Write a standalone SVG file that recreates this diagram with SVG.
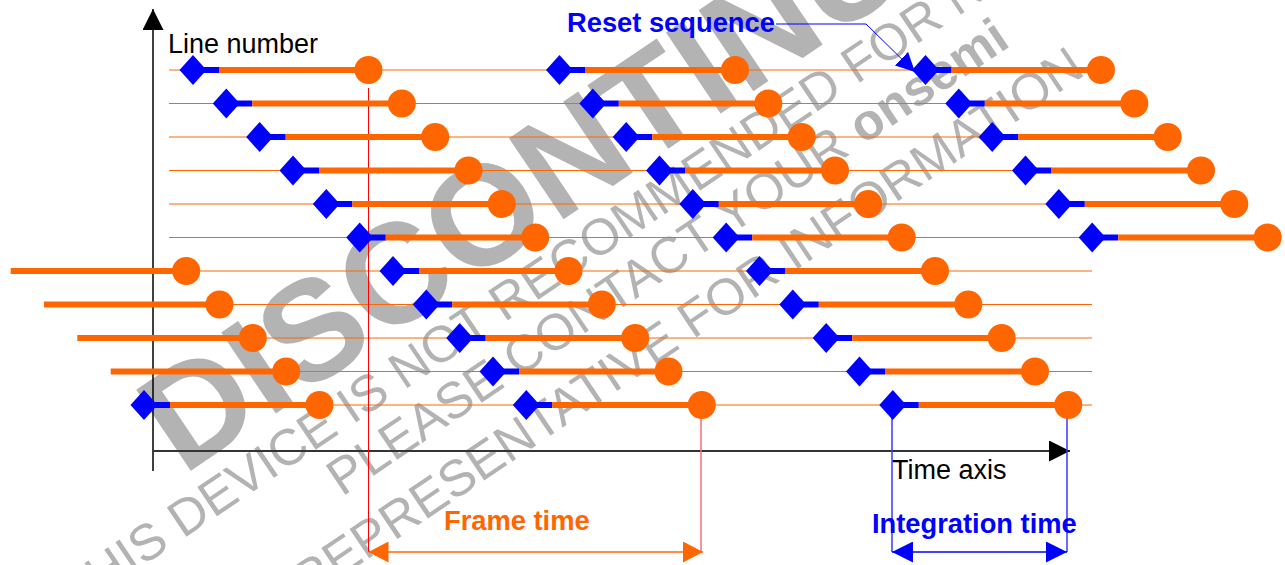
<svg xmlns="http://www.w3.org/2000/svg" width="1285" height="565" viewBox="0 0 1285 565">
<style>
.wm{fill:#b3b3b3;font-family:"Liberation Sans",Arial,sans-serif}
.thin{stroke:#ff6600;stroke-width:1}
.bar{stroke:#ff6600;stroke-width:6}
.rb{stroke:#0000ff;stroke-width:6}
.dot{fill:#ff6600}
.dia{fill:#0000ff}
.lbl{font-family:"Liberation Sans",Arial,sans-serif;font-size:27px}
.b{font-weight:bold;font-size:27.3px}
</style>
<defs>
<path id="d" d="M-13.5 0L0 -15L13.5 0L0 15Z"/>
<marker id="ak" markerUnits="userSpaceOnUse" markerWidth="21" markerHeight="21" refX="21" refY="10.5" orient="auto"><path d="M0 0L21 10.5L0 21Z" fill="#000"/></marker>
<marker id="ao" markerUnits="userSpaceOnUse" markerWidth="20" markerHeight="21" refX="20" refY="10.5" orient="auto-start-reverse"><path d="M0 0L20 10.5L0 21Z" fill="#ff6600"/></marker>
<marker id="ab" markerUnits="userSpaceOnUse" markerWidth="21" markerHeight="21" refX="21" refY="10.5" orient="auto-start-reverse"><path d="M0 0L21 10.5L0 21Z" fill="#0000ff"/></marker>
<marker id="ar" markerUnits="userSpaceOnUse" markerWidth="19" markerHeight="19" refX="19" refY="9.5" orient="auto"><path d="M0 0L19 9.5L0 19Z" fill="#0000ff"/></marker>
</defs>

<g id="watermark" class="wm">
<text transform="translate(183,476) rotate(-34)" font-size="142" font-weight="bold">DISCONTINUED</text>
<text transform="translate(75,612) rotate(-34)" font-size="51">THIS DEVICE IS NOT RECOMMENDED FOR NEW DESIGN.</text>
<text transform="translate(342,497) rotate(-34)" font-size="51">PLEASE CONTACT YOUR <tspan font-weight="bold">onsemi</tspan></text>
<text transform="translate(307,600) rotate(-34)" font-size="51">REPRESENTATIVE FOR INFORMATION</text>
</g>

<g id="axes" fill="none">
<line x1="153" y1="471" x2="153" y2="9" stroke="#000" stroke-width="1.5" marker-end="url(#ak)"/>
<line x1="153" y1="451" x2="1070" y2="451" stroke="#333" stroke-width="2" marker-end="url(#ak)"/>
<text class="lbl" x="168" y="53" fill="#000">Line number</text>
<text class="lbl" x="892" y="479" fill="#000">Time axis</text>
</g>

<g id="gridlines">
<line class="thin" x1="169" y1="70" x2="1092" y2="70"/>
<line class="thin" x1="169" y1="103.5" x2="1092" y2="103.5"/>
<line class="thin" x1="169" y1="137" x2="1092" y2="137"/>
<line class="thin" x1="169" y1="170.5" x2="1092" y2="170.5"/>
<line class="thin" x1="169" y1="204" x2="1092" y2="204"/>
<line class="thin" x1="169" y1="237.5" x2="1092" y2="237.5"/>
<line class="thin" x1="169" y1="271" x2="1092" y2="271"/>
<line class="thin" x1="169" y1="304.5" x2="1092" y2="304.5"/>
<line class="thin" x1="169" y1="338" x2="1092" y2="338"/>
<line class="thin" x1="169" y1="371.5" x2="1092" y2="371.5"/>
<line class="thin" x1="169" y1="405" x2="1092" y2="405"/>
</g>

<g id="connectors" fill="none">
<line x1="368.5" y1="88" x2="368.5" y2="552" stroke="#ff0000" stroke-width="1"/>
<line x1="701" y1="405" x2="701" y2="552" stroke="#f07070" stroke-width="1.5"/>
<line x1="892" y1="405" x2="892" y2="552" stroke="#3838ff" stroke-width="1.5"/>
<line x1="1067" y1="405" x2="1067" y2="552" stroke="#3838ff" stroke-width="1.5"/>
<line x1="368.5" y1="552" x2="703" y2="552" stroke="#ff6600" stroke-width="1.5" marker-start="url(#ao)" marker-end="url(#ao)"/>
<line x1="892" y1="552" x2="1067" y2="552" stroke="#0000ff" stroke-width="1.5" marker-start="url(#ab)" marker-end="url(#ab)"/>
<polyline points="776,24 866,24 915,72" stroke="#0000ff" stroke-width="1" marker-end="url(#ar)"/>
</g>

<g id="frame-prev">
<g id="p-prev-6"><line class="bar" x1="10.7" y1="271" x2="186.2" y2="271"/><circle class="dot" cx="186.2" cy="271" r="14"/></g>
<g id="p-prev-7"><line class="bar" x1="44" y1="304.5" x2="219.5" y2="304.5"/><circle class="dot" cx="219.5" cy="304.5" r="14"/></g>
<g id="p-prev-8"><line class="bar" x1="77.3" y1="338" x2="252.8" y2="338"/><circle class="dot" cx="252.8" cy="338" r="14"/></g>
<g id="p-prev-9"><line class="bar" x1="110.7" y1="371.5" x2="286.2" y2="371.5"/><circle class="dot" cx="286.2" cy="371.5" r="14"/></g>
<g id="p-prev-10"><line class="rb" x1="144" y1="405" x2="170" y2="405"/><line class="bar" x1="170" y1="405" x2="319.5" y2="405"/><use href="#d" class="dia" x="144" y="405"/><circle class="dot" cx="319.5" cy="405" r="14"/></g>
</g>

<g id="frame-a">
<g id="pa-0"><line class="rb" x1="193" y1="70" x2="219" y2="70"/><line class="bar" x1="219" y1="70" x2="368.5" y2="70"/><use href="#d" class="dia" x="193" y="70"/><circle class="dot" cx="368.5" cy="70" r="14"/></g>
<g id="pa-1"><line class="rb" x1="226.3" y1="103.5" x2="252.3" y2="103.5"/><line class="bar" x1="252.3" y1="103.5" x2="401.8" y2="103.5"/><use href="#d" class="dia" x="226.3" y="103.5"/><circle class="dot" cx="401.8" cy="103.5" r="14"/></g>
<g id="pa-2"><line class="rb" x1="259.7" y1="137" x2="285.7" y2="137"/><line class="bar" x1="285.7" y1="137" x2="435.2" y2="137"/><use href="#d" class="dia" x="259.7" y="137"/><circle class="dot" cx="435.2" cy="137" r="14"/></g>
<g id="pa-3"><line class="rb" x1="293" y1="170.5" x2="319" y2="170.5"/><line class="bar" x1="319" y1="170.5" x2="468.5" y2="170.5"/><use href="#d" class="dia" x="293" y="170.5"/><circle class="dot" cx="468.5" cy="170.5" r="14"/></g>
<g id="pa-4"><line class="rb" x1="326.3" y1="204" x2="352.3" y2="204"/><line class="bar" x1="352.3" y1="204" x2="501.8" y2="204"/><use href="#d" class="dia" x="326.3" y="204"/><circle class="dot" cx="501.8" cy="204" r="14"/></g>
<g id="pa-5"><line class="rb" x1="359.7" y1="237.5" x2="385.7" y2="237.5"/><line class="bar" x1="385.7" y1="237.5" x2="535.2" y2="237.5"/><use href="#d" class="dia" x="359.7" y="237.5"/><circle class="dot" cx="535.2" cy="237.5" r="14"/></g>
<g id="pa-6"><line class="rb" x1="393" y1="271" x2="419" y2="271"/><line class="bar" x1="419" y1="271" x2="568.5" y2="271"/><use href="#d" class="dia" x="393" y="271"/><circle class="dot" cx="568.5" cy="271" r="14"/></g>
<g id="pa-7"><line class="rb" x1="426.3" y1="304.5" x2="452.3" y2="304.5"/><line class="bar" x1="452.3" y1="304.5" x2="601.8" y2="304.5"/><use href="#d" class="dia" x="426.3" y="304.5"/><circle class="dot" cx="601.8" cy="304.5" r="14"/></g>
<g id="pa-8"><line class="rb" x1="459.7" y1="338" x2="485.7" y2="338"/><line class="bar" x1="485.7" y1="338" x2="635.2" y2="338"/><use href="#d" class="dia" x="459.7" y="338"/><circle class="dot" cx="635.2" cy="338" r="14"/></g>
<g id="pa-9"><line class="rb" x1="493" y1="371.5" x2="519" y2="371.5"/><line class="bar" x1="519" y1="371.5" x2="668.5" y2="371.5"/><use href="#d" class="dia" x="493" y="371.5"/><circle class="dot" cx="668.5" cy="371.5" r="14"/></g>
<g id="pa-10"><line class="rb" x1="526.3" y1="405" x2="552.3" y2="405"/><line class="bar" x1="552.3" y1="405" x2="701.8" y2="405"/><use href="#d" class="dia" x="526.3" y="405"/><circle class="dot" cx="701.8" cy="405" r="14"/></g>
</g>

<g id="frame-b">
<g id="pb-0"><line class="rb" x1="559.5" y1="70" x2="585.5" y2="70"/><line class="bar" x1="585.5" y1="70" x2="735" y2="70"/><use href="#d" class="dia" x="559.5" y="70"/><circle class="dot" cx="735" cy="70" r="14"/></g>
<g id="pb-1"><line class="rb" x1="592.8" y1="103.5" x2="618.8" y2="103.5"/><line class="bar" x1="618.8" y1="103.5" x2="768.3" y2="103.5"/><use href="#d" class="dia" x="592.8" y="103.5"/><circle class="dot" cx="768.3" cy="103.5" r="14"/></g>
<g id="pb-2"><line class="rb" x1="626.2" y1="137" x2="652.2" y2="137"/><line class="bar" x1="652.2" y1="137" x2="801.7" y2="137"/><use href="#d" class="dia" x="626.2" y="137"/><circle class="dot" cx="801.7" cy="137" r="14"/></g>
<g id="pb-3"><line class="rb" x1="659.5" y1="170.5" x2="685.5" y2="170.5"/><line class="bar" x1="685.5" y1="170.5" x2="835" y2="170.5"/><use href="#d" class="dia" x="659.5" y="170.5"/><circle class="dot" cx="835" cy="170.5" r="14"/></g>
<g id="pb-4"><line class="rb" x1="692.8" y1="204" x2="718.8" y2="204"/><line class="bar" x1="718.8" y1="204" x2="868.3" y2="204"/><use href="#d" class="dia" x="692.8" y="204"/><circle class="dot" cx="868.3" cy="204" r="14"/></g>
<g id="pb-5"><line class="rb" x1="726.2" y1="237.5" x2="752.2" y2="237.5"/><line class="bar" x1="752.2" y1="237.5" x2="901.7" y2="237.5"/><use href="#d" class="dia" x="726.2" y="237.5"/><circle class="dot" cx="901.7" cy="237.5" r="14"/></g>
<g id="pb-6"><line class="rb" x1="759.5" y1="271" x2="785.5" y2="271"/><line class="bar" x1="785.5" y1="271" x2="935" y2="271"/><use href="#d" class="dia" x="759.5" y="271"/><circle class="dot" cx="935" cy="271" r="14"/></g>
<g id="pb-7"><line class="rb" x1="792.8" y1="304.5" x2="818.8" y2="304.5"/><line class="bar" x1="818.8" y1="304.5" x2="968.3" y2="304.5"/><use href="#d" class="dia" x="792.8" y="304.5"/><circle class="dot" cx="968.3" cy="304.5" r="14"/></g>
<g id="pb-8"><line class="rb" x1="826.2" y1="338" x2="852.2" y2="338"/><line class="bar" x1="852.2" y1="338" x2="1001.7" y2="338"/><use href="#d" class="dia" x="826.2" y="338"/><circle class="dot" cx="1001.7" cy="338" r="14"/></g>
<g id="pb-9"><line class="rb" x1="859.5" y1="371.5" x2="885.5" y2="371.5"/><line class="bar" x1="885.5" y1="371.5" x2="1035" y2="371.5"/><use href="#d" class="dia" x="859.5" y="371.5"/><circle class="dot" cx="1035" cy="371.5" r="14"/></g>
<g id="pb-10"><line class="rb" x1="892.8" y1="405" x2="918.8" y2="405"/><line class="bar" x1="918.8" y1="405" x2="1068.3" y2="405"/><use href="#d" class="dia" x="892.8" y="405"/><circle class="dot" cx="1068.3" cy="405" r="14"/></g>
</g>

<g id="frame-c">
<g id="pc-0"><line class="rb" x1="925.5" y1="70" x2="951.5" y2="70"/><line class="bar" x1="951.5" y1="70" x2="1101" y2="70"/><use href="#d" class="dia" x="925.5" y="70"/><circle class="dot" cx="1101" cy="70" r="14"/></g>
<g id="pc-1"><line class="rb" x1="958.8" y1="103.5" x2="984.8" y2="103.5"/><line class="bar" x1="984.8" y1="103.5" x2="1134.3" y2="103.5"/><use href="#d" class="dia" x="958.8" y="103.5"/><circle class="dot" cx="1134.3" cy="103.5" r="14"/></g>
<g id="pc-2"><line class="rb" x1="992.2" y1="137" x2="1018.2" y2="137"/><line class="bar" x1="1018.2" y1="137" x2="1167.7" y2="137"/><use href="#d" class="dia" x="992.2" y="137"/><circle class="dot" cx="1167.7" cy="137" r="14"/></g>
<g id="pc-3"><line class="rb" x1="1025.5" y1="170.5" x2="1051.5" y2="170.5"/><line class="bar" x1="1051.5" y1="170.5" x2="1201" y2="170.5"/><use href="#d" class="dia" x="1025.5" y="170.5"/><circle class="dot" cx="1201" cy="170.5" r="14"/></g>
<g id="pc-4"><line class="rb" x1="1058.8" y1="204" x2="1084.8" y2="204"/><line class="bar" x1="1084.8" y1="204" x2="1234.3" y2="204"/><use href="#d" class="dia" x="1058.8" y="204"/><circle class="dot" cx="1234.3" cy="204" r="14"/></g>
<g id="pc-5"><line class="rb" x1="1092.2" y1="237.5" x2="1118.2" y2="237.5"/><line class="bar" x1="1118.2" y1="237.5" x2="1267.7" y2="237.5"/><use href="#d" class="dia" x="1092.2" y="237.5"/><circle class="dot" cx="1267.7" cy="237.5" r="14"/></g>
</g>

<g id="labels">
<text class="lbl b" x="567" y="32" fill="#0000ff">Reset sequence</text>
<text class="lbl b" x="444" y="530" fill="#ff6600">Frame time</text>
<text class="lbl b" x="872" y="533" fill="#0000ff">Integration time</text>
</g>
</svg>
